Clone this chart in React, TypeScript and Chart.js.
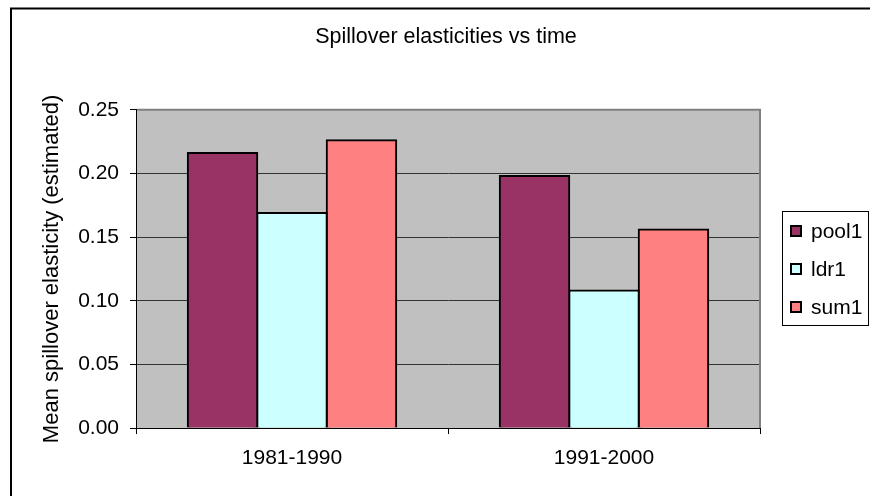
import React, { useEffect, useRef } from 'react';
import { Chart, registerables } from 'chart.js';

Chart.register(...registerables);

// ---- data ----
const categories = ['1981-1990', '1991-2000'];
const seriesNames = ['pool1', 'ldr1', 'sum1'];
const pool1 = [0.216, 0.198];
const ldr1 = [0.169, 0.108];
const sum1 = [0.226, 0.156];
const yTickValues = [0, 0.05, 0.1, 0.15, 0.2, 0.25];
const chartTitle = 'Spillover elasticities vs time';
const yTitle = 'Mean spillover elasticity (estimated)';

const seriesColors = ['#993366', '#CCFFFF', '#FF8080'];
const FONT = '"Liberation Sans", Arial, Helvetica, sans-serif';

const framePlugin = {
  id: 'excelFrame',
  beforeDraw(chart: any) {
    const { ctx, chartArea: a } = chart;
    ctx.save();
    ctx.fillStyle = '#ffffff';
    ctx.fillRect(0, 0, chart.width, chart.height);
    ctx.strokeStyle = '#000000';
    ctx.lineWidth = 2;
    ctx.strokeRect(11, 8.5, chart.width + 100, chart.height + 100);
    ctx.fillStyle = '#C0C0C0';
    ctx.fillRect(a.left, a.top, a.right - a.left, a.bottom - a.top);
    ctx.restore();
  },
  beforeDatasetsDraw(chart: any) {
    const { ctx, chartArea: a } = chart;
    ctx.save();
    ctx.strokeStyle = '#808080';
    ctx.lineWidth = 2;
    ctx.beginPath();
    ctx.moveTo(a.left + 1, a.top);
    ctx.lineTo(a.right, a.top);
    ctx.lineTo(a.right, a.bottom);
    ctx.stroke();
    ctx.restore();
  },
  afterDraw(chart: any) {
    const { ctx, chartArea: a } = chart;
    const ds = chart.data.datasets;
    const boxW = 86;
    const boxH = 114;
    const left = Math.round(a.right + 22);
    const top = Math.round((a.top + a.bottom) / 2 - boxH / 2 - 0.5);
    ctx.save();
    ctx.fillStyle = '#ffffff';
    ctx.fillRect(left, top, boxW, boxH);
    ctx.strokeStyle = '#000000';
    ctx.lineWidth = 1;
    ctx.strokeRect(left + 0.5, top + 0.5, boxW, boxH);
    ctx.font = '21px ' + FONT;
    ctx.textBaseline = 'middle';
    ctx.textAlign = 'left';
    ds.forEach((d: any, i: number) => {
      const cy = top + 20 + i * 38;
      ctx.fillStyle = d.backgroundColor;
      ctx.fillRect(left + 8, cy - 6, 12, 12);
      ctx.strokeStyle = '#000';
      ctx.lineWidth = 2;
      ctx.strokeRect(left + 9, cy - 5, 10, 10);
      ctx.fillStyle = '#000';
      ctx.fillText(d.label, left + 29, cy + 1);
    });
    ctx.restore();
  },
};

export default function App() {
  const ref = useRef<HTMLCanvasElement | null>(null);

  useEffect(() => {
    document.body.style.margin = '0';
    const canvas = ref.current;
    if (!canvas) return;
    const values = [pool1, ldr1, sum1];
    const chart = new Chart(canvas, {
      type: 'bar',
      data: {
        labels: categories,
        datasets: seriesNames.map((name, i) => ({
          label: name,
          data: values[i],
          backgroundColor: seriesColors[i],
          borderColor: '#000000',
          borderWidth: 2,
          inflateAmount: 1,
          borderSkipped: 'bottom',
          categoryPercentage: 0.668,
          barPercentage: 1,
          yAxisID: 'y',
        })),
      },
      options: {
        responsive: false,
        animation: false,
        devicePixelRatio: 1,
        layout: { padding: { left: 22, right: 0, top: 0, bottom: 0 } },
        plugins: {
          legend: { display: false },
          tooltip: { enabled: false },
          title: {
            display: true,
            text: chartTitle,
            color: '#000',
            font: { family: FONT, size: 21.5, weight: 'normal' },
            padding: { top: 24, bottom: 60 },
          },
        },
        scales: {
          x: {
            type: 'category',
            offset: true,
            grid: {
              offset: true,
              drawOnChartArea: false,
              drawTicks: true,
              tickLength: 6,
              tickColor: '#000',
              color: '#000',
            },
            border: { display: true, color: '#000', width: 1 },
            ticks: {
              color: '#000',
              padding: 12,
              font: { family: FONT, size: 21 },
              maxRotation: 0,
            },
            afterFit: (s: any) => {
              s.height = 68;
            },
          },
          y: {
            position: 'left',
            min: 0,
            max: 0.25,
            grid: {
              color: '#333333',
              lineWidth: 1,
              drawTicks: true,
              tickLength: 6,
              tickColor: '#000',
            },
            border: { display: true, color: '#000', width: 1 },
            ticks: {
              color: '#000',
              padding: 11,
              font: { family: FONT, size: 21 },
              callback: (v: any) => Number(v).toFixed(2),
            },
            afterBuildTicks: (s: any) => {
              s.ticks = yTickValues.map((v) => ({ value: v }));
            },
            title: {
              display: true,
              text: yTitle,
              color: '#000',
              font: { family: FONT, size: 22 },
              padding: { top: 17, bottom: 0 },
            },
            afterFit: (s: any) => {
              s.width = 114;
            },
          },
          legendSpace: {
            type: 'linear',
            position: 'right',
            display: true,
            grid: { display: false, drawTicks: false },
            border: { display: false },
            ticks: { display: false },
            afterFit: (s: any) => {
              s.width = 110;
            },
          },
        },
      },
      plugins: [framePlugin],
    } as any);
    return () => chart.destroy();
  }, []);

  return (
    <div style={{ width: 870, height: 496 }}>
      <canvas ref={ref} width={870} height={496} style={{ display: 'block' }} />
    </div>
  );
}
